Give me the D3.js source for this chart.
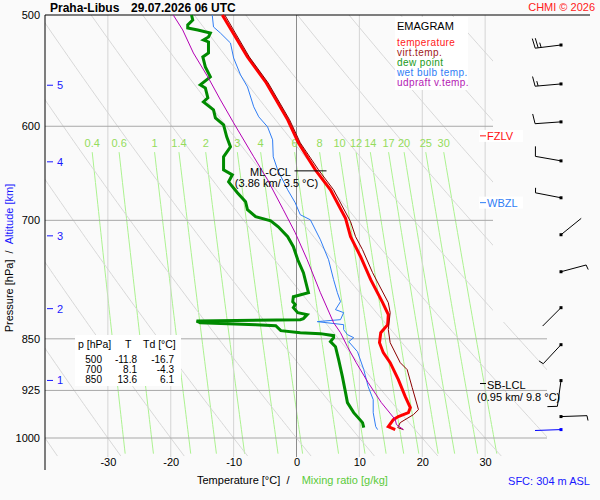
<!DOCTYPE html>
<html>
<head>
<meta charset="utf-8">
<script src="https://cdn.jsdelivr.net/npm/d3@7"></script>
<style>
  body { margin: 0; background: #fafafa; }
  svg { font-family: "Liberation Sans", Arial, sans-serif; }
</style>
</head>
<body>
<div id="vis"></div>
<script>
const FRAME_WIDTH = 600;
const FRAME_HEIGHT = 500;

// grid / axis values
const P_TICKS = [500, 600, 700, 850, 925, 1000];
const ISOBARS = [600, 700, 850, 925, 1000];
const T_TICKS = [-30, -20, -10, 0, 10, 20, 30];
const ISOTHERMS = [-30, -20, -10, 0, 10, 20, 30];
const MIX_RATIOS = [0.4, 0.6, 1, 1.4, 2, 3, 4, 6, 8, 10, 12, 14, 17, 20, 25, 30];
const THETAS = [-40, -30, -20, -10, 0, 10, 20, 30, 40, 50, 60, 70, 80, 90, 100, 110, 120, 130, 140];
const ALT_KM = [1, 2, 3, 4, 5];
const ALT_P = [910, 809, 718, 636, 561];

// sounding (hPa, degC)
const T_P = [500, 535.6, 558.9, 593.7, 616.5, 644.4, 665.9, 697.6, 719.1, 743.0, 771.5, 801.1, 817.0,
             830.5, 841.5, 855.4, 869.5, 883.9, 908.8, 934.5, 951.4, 959.3, 965.5, 970.3, 981.5, 986.3];
const T_VAL = [-11.8, -7.8, -4.8, -1.4, 0.3, 3.0, 5.4, 7.8, 8.6, 10.2, 11.8, 13.7, 14.6,
               14.5, 13.4, 13.2, 13.8, 14.9, 16.2, 17.3, 18.1, 17.8, 16.2, 15.4, 14.6, 15.7];

const TV_P = [500, 535.6, 558.9, 593.7, 616.5, 644.4, 665.9, 701.6, 719.1, 734.5, 762.7, 801.1, 814.3,
              837.3, 855.4, 883.9, 894.0, 920.7, 954.6, 962.4, 975.1, 983.1, 986.3];
const TV_VAL = [-11.4, -7.5, -4.5, -1.1, 0.6, 3.5, 5.9, 8.6, 9.4, 10.5, 12.1, 14.6, 14.9,
                14.6, 14.9, 16.5, 17.6, 18.4, 19.4, 18.6, 16.5, 16.1, 17.0];

const TD_P = [500, 504.1, 508.2, 510.8, 512.4, 515.0, 518.3, 520.9, 522.6, 532.1, 535.6, 544.4, 553.4,
              560.7, 563.5, 572.7, 576.5, 584.1, 591.8, 598.6, 610.5, 620.6, 630.8, 644.4, 649.7, 657.2,
              669.1, 679.0, 687.9, 695.9, 700.5, 707.4, 719.1, 730.9, 746.7, 762.7, 788.1, 793.3, 799.8,
              803.7, 807.7, 814.3, 817.0, 822.3, 823.7, 825.7, 827.8, 830.5, 831.9, 838.7, 841.5, 842.8,
              845.6, 848.4, 854.0, 861.0, 879.5, 904.4, 928.4, 943.7, 959.3, 975.1, 983.1];
const TD_VAL = [-16.7, -16.5, -17.3, -17.3, -15.7, -13.7, -14.0, -14.8, -14.0, -14.0, -14.9, -14.5, -13.7,
                -15.3, -14.5, -14.1, -14.8, -13.2, -12.9, -11.6, -11.1, -10.5, -11.6, -11.6, -10.2, -10.8,
                -9.4, -8.1, -7.8, -6.5, -4.1, -2.9, -1.4, -0.5, 0.2, 1.1, 1.9, -0.5, -0.6,
                -0.2, -0.5, 0.2, 1.7, 1.1, 0.6, -15.9, -15.3, -6.5, -3.3, -2.5, 0.6, 3.8,
                5.9, 5.9, 5.4, 6.2, 6.7, 7.3, 7.8, 8.1, 9.1, 10.5, 10.7];

const TW_P = [500, 509.9, 515.0, 523.5, 536.5, 551.6, 562.5, 581.2, 590.8, 600.6, 613.5, 630.8, 644.4,
              665.9, 680.2, 693.6, 699.4, 722.6, 746.7, 771.5, 788.1, 799.8, 810.3, 814.3, 823.7, 826.4,
              830.5, 837.3, 844.2, 848.4, 854.0, 868.1, 894.0, 919.3, 939.1, 959.3, 981.5, 986.3];
const TW_VAL = [-13.4, -13.2, -12.1, -10.5, -10.0, -8.9, -7.8, -6.8, -6.0, -4.6, -3.8, -3.7, -3.0,
                -1.4, -0.2, 0.6, 2.2, 3.8, 5.1, 5.9, 6.5, 7.0, 6.2, 7.5, 7.0, 3.3,
                7.5, 7.5, 8.1, 9.1, 8.3, 9.7, 10.7, 11.4, 12.2, 12.2, 12.6, 12.9];

const PARCEL_P = [500, 512.4, 532.1, 553.4, 574.6, 596.7, 630.8, 655.0, 687.9, 714.4, 746.7, 788.1,
                  827.8, 841.5, 861.0, 883.9, 913.3, 943.7, 970.3, 978.3, 986.3];
const PARCEL_VAL = [-19.6, -18.1, -16.4, -14.1, -12.1, -10.0, -6.8, -4.6, -2.1, -0.2, 1.7, 3.8,
                    5.9, 7.0, 8.1, 9.5, 11.4, 13.5, 15.7, 15.9, 17.0];

// wind (hPa, deg, kt)
const WIND_P = [525.2, 559.8, 595.7, 635.0, 674.6, 716.7, 761.5, 807.7, 858.2, 910.2, 965.5, 986.3];
const WIND_DIR = [263, 265, 266, 280, 281, 51, 75, 225, 223, 188, 88, 268];
const WIND_KT = [25, 15, 10, 10, 5, 2, 5, 2, 5, 10, 5, 2];

// levels
const FZLV_P = 609.5;
const WBZL_P = 680;
const CCL_P = 645.5, CCL_KM = 3.86, CCL_T = 3.5;
const LCL_P = 914.6, LCL_KM = 0.95, LCL_T = 9.8;

const TABLE_P = [500, 700, 850];
const TABLE_T = [-11.8, 8.1, 13.6];
const TABLE_TD = [-16.7, -4.3, 6.1];

const X_SCALE = d3.scaleLinear().domain([-40, 40]).range([45, 548]);
const Y_SCALE = d3.scaleLog().domain([500, 1000]).range([15, 438]);

const SVG = d3.select("#vis").append("svg")
  .attr("width", FRAME_WIDTH)
  .attr("height", FRAME_HEIGHT);

SVG.append("rect").attr("width", FRAME_WIDTH).attr("height", FRAME_HEIGHT).attr("fill", "#fafafa");

SVG.append("defs").append("clipPath").attr("id", "plotclip")
  .append("polygon")
  .attr("points", "45,15 493,15 493,322 547,322 547,457 45,457");

const GRID = SVG.append("g").attr("clip-path", "url(#plotclip)");

const line = d3.line().x(d => X_SCALE(d[1])).y(d => Y_SCALE(d[0]));

function mixToTd(w, p) {
  const e = w * p / (622 + w);
  const l = Math.log(e / 6.112);
  return 243.5 * l / (17.67 - l);
}

// mixing ratio lines
const MIX_PS = d3.range(626, 1031, 8);
GRID.selectAll(".mix").data(MIX_RATIOS).enter().append("path")
  .attr("d", w => line(MIX_PS.map(p => [p, mixToTd(w, p)])))
  .attr("fill", "none").attr("stroke", "#acf290").attr("stroke-width", 1);

// dry adiabats
const ADI_PS = d3.range(500, 1035, 5);
GRID.selectAll(".adi").data(THETAS).enter().append("path")
  .attr("d", th => line(ADI_PS.map(p => [p, (th + 273.15) * Math.pow(p / 1000, 0.2857) - 273.15])))
  .attr("fill", "none").attr("stroke", "#d8d8d8").attr("stroke-width", 1);

// isotherms
GRID.selectAll(".iso").data(ISOTHERMS).enter().append("line")
  .attr("x1", d => X_SCALE(d)).attr("x2", d => X_SCALE(d))
  .attr("y1", 15).attr("y2", 457)
  .attr("stroke", d => d === 0 ? "#8c8c8c" : "#d4d4d4").attr("stroke-width", 1);

// isobars
GRID.selectAll(".bar").data(ISOBARS).enter().append("line")
  .attr("x1", 45).attr("x2", 548)
  .attr("y1", d => Y_SCALE(d)).attr("y2", d => Y_SCALE(d))
  .attr("stroke", "#a8a8a8").attr("stroke-width", 1);

// mixing ratio labels
SVG.selectAll(".mixlab").data(MIX_RATIOS).enter().append("text")
  .attr("x", w => X_SCALE(mixToTd(w, 626)))
  .attr("y", 147)
  .attr("text-anchor", "middle")
  .attr("font-size", 11).attr("fill", "#94dc5c")
  .text(d => d);

// axes frame
SVG.append("line").attr("x1", 45).attr("x2", 590).attr("y1", 15).attr("y2", 15)
  .attr("stroke", "#000");
SVG.append("line").attr("x1", 45).attr("x2", 45).attr("y1", 15).attr("y2", 470)
  .attr("stroke", "#000");

const Y_AXIS = SVG.append("g").attr("transform", "translate(45,0)")
  .call(d3.axisLeft(Y_SCALE).tickValues(P_TICKS).tickFormat(d => String(d)).tickSize(0).tickPadding(5));
Y_AXIS.select(".domain").remove();
Y_AXIS.selectAll("text").attr("font-size", 11).attr("font-family", "Liberation Sans, Arial, sans-serif")
  .attr("fill", "#000");

const X_AXIS = SVG.append("g").attr("transform", "translate(0,458)")
  .call(d3.axisBottom(X_SCALE).tickValues(T_TICKS).tickFormat(d => String(d)).tickSize(0).tickPadding(0));
X_AXIS.select(".domain").remove();
X_AXIS.selectAll("text").attr("font-size", 11).attr("font-family", "Liberation Sans, Arial, sans-serif")
  .attr("fill", "#000");

// altitude ticks
const ALT = SVG.selectAll(".alt").data(ALT_KM).enter().append("g")
  .attr("transform", (d, i) => "translate(0," + Y_SCALE(ALT_P[i]) + ")");
ALT.append("line").attr("x1", 47).attr("x2", 53).attr("stroke", "#1818ff");
ALT.append("text").attr("x", 57).attr("y", 4).attr("font-size", 11).attr("fill", "#1818ff").text(d => d);

// profiles
function drawProfile(ps, vals, color, width) {
  SVG.append("path")
    .attr("d", line(d3.zip(ps, vals)))
    .attr("fill", "none").attr("stroke", color).attr("stroke-width", width)
    .attr("stroke-linejoin", "miter");
}
drawProfile(TD_P, TD_VAL, "#008a00", 3);
drawProfile(T_P, T_VAL, "#ff0000", 3);
drawProfile(TV_P, TV_VAL, "#8b0000", 1);
drawProfile(TW_P, TW_VAL, "#2f7df5", 1);
drawProfile(PARCEL_P, PARCEL_VAL, "#b400b4", 1);

// wind barbs
const BARB_X = 561;
WIND_P.forEach((p, i) => {
  const y0 = Y_SCALE(p);
  const color = i === WIND_P.length - 1 ? "#0000ff" : "#000";
  const a = WIND_DIR[i] * Math.PI / 180;
  const ux = Math.sin(a), uy = -Math.cos(a);
  const nx = -uy, ny = ux;
  const L = 26;
  const g = SVG.append("g");
  g.append("line").attr("x1", BARB_X).attr("y1", y0)
    .attr("x2", BARB_X + L * ux).attr("y2", y0 + L * uy)
    .attr("stroke", color).attr("stroke-width", 1);
  g.append("rect").attr("x", BARB_X - 1.5).attr("y", y0 - 1.5).attr("width", 3).attr("height", 3)
    .attr("fill", color);
  const lengths = [];
  for (let k = 0; k < Math.floor(WIND_KT[i] / 10); k++) lengths.push(10);
  if (WIND_KT[i] % 10 >= 5) lengths.push(5);
  lengths.forEach((bl, k) => {
    const bx = BARB_X + (L - 3 * k) * ux, by = y0 + (L - 3 * k) * uy;
    g.append("line").attr("x1", bx).attr("y1", by)
      .attr("x2", bx + bl * (0.17 * ux + 0.985 * nx)).attr("y2", by + bl * (0.17 * uy + 0.985 * ny))
      .attr("stroke", color).attr("stroke-width", 1);
  });
});

// level labels
function levelLabel(p, text, color) {
  const y = Y_SCALE(p);
  SVG.append("rect").attr("x", 479).attr("y", y - 6).attr("width", 44).attr("height", 12).attr("fill", "#fff");
  SVG.append("line").attr("x1", 480).attr("x2", 486).attr("y1", y).attr("y2", y).attr("stroke", color);
  SVG.append("text").attr("x", 487).attr("y", y + 4).attr("font-size", 11).attr("fill", color).text(text);
}
levelLabel(FZLV_P, "FZLV", "#ff1010");
levelLabel(WBZL_P, "WBZL", "#2f7df5");

const yCcl = Y_SCALE(CCL_P);
SVG.append("line").attr("x1", X_SCALE(CCL_T) - 24).attr("x2", X_SCALE(CCL_T) + 8)
  .attr("y1", yCcl).attr("y2", yCcl).attr("stroke", "#000");
SVG.append("text").attr("x", X_SCALE(CCL_T) - 48).attr("y", yCcl + 5).attr("text-anchor", "middle")
  .attr("font-size", 11).text("ML-CCL");
SVG.append("text").attr("x", X_SCALE(CCL_T) - 42).attr("y", yCcl + 16).attr("text-anchor", "middle")
  .attr("font-size", 11).text("(" + CCL_KM + " km/ " + CCL_T + " °C)");

const yLcl = Y_SCALE(LCL_P);
SVG.append("line").attr("x1", 480).attr("x2", 486).attr("y1", yLcl).attr("y2", yLcl).attr("stroke", "#000");
SVG.append("text").attr("x", 487).attr("y", yLcl + 5).attr("font-size", 11).text("SB-LCL");
SVG.append("text").attr("x", 477).attr("y", yLcl + 17).attr("font-size", 11)
  .text("(" + LCL_KM + " km/ " + LCL_T + " °C)");

// legend
SVG.append("rect").attr("x", 395).attr("y", 17).attr("width", 73).attr("height", 73).attr("fill", "#fff");
SVG.append("text").attr("x", 397).attr("y", 30).attr("font-size", 11).text("EMAGRAM");
const LEGEND_NAMES = ["temperature", "virt.temp.", "dew point", "wet bulb temp.", "udpraft v.temp."];
const LEGEND_COLORS = ["#ff1a1a", "#a01818", "#209a20", "#2f7df5", "#b420b4"];
SVG.selectAll(".leg").data(LEGEND_NAMES).enter().append("text")
  .attr("x", 397).attr("y", (d, i) => 46 + 10 * i)
  .attr("font-size", 10).attr("letter-spacing", 0.4)
  .attr("fill", (d, i) => LEGEND_COLORS[i]).text(d => d);

// table
SVG.append("rect").attr("x", 75).attr("y", 335).attr("width", 106).attr("height", 51).attr("fill", "#fff");
SVG.append("text").attr("x", 78).attr("y", 348).attr("font-size", 10.5).text("p [hPa]");
SVG.append("text").attr("x", 125).attr("y", 348).attr("font-size", 10.5).text("T");
SVG.append("text").attr("x", 143).attr("y", 348).attr("font-size", 10.5).text("Td [°C]");
TABLE_P.forEach((p, i) => {
  const y = 362.5 + 10 * i;
  SVG.append("text").attr("x", 102).attr("y", y).attr("text-anchor", "end").attr("font-size", 10).text(p);
  SVG.append("text").attr("x", 137).attr("y", y).attr("text-anchor", "end").attr("font-size", 10)
    .text(TABLE_T[i].toFixed(1));
  SVG.append("text").attr("x", 174).attr("y", y).attr("text-anchor", "end").attr("font-size", 10)
    .text(TABLE_TD[i].toFixed(1));
});

// titles
SVG.append("text").attr("x", 50).attr("y", 12).attr("font-size", 12).attr("font-weight", "bold")
  .text("Praha-Libus");
SVG.append("text").attr("x", 131).attr("y", 12).attr("font-size", 12).attr("font-weight", "bold")
  .text("29.07.2026 06 UTC");
SVG.append("text").attr("x", 595).attr("y", 11).attr("text-anchor", "end").attr("font-size", 11)
  .attr("fill", "#ff2020").text("CHMI © 2026");

const XT = SVG.append("text").attr("x", 197).attr("y", 484).attr("font-size", 11);
XT.append("tspan").attr("fill", "#000").text("Temperature [°C]\u00a0\u00a0/\u00a0\u00a0\u00a0\u00a0");
XT.append("tspan").attr("fill", "#5acb3a").text("Mixing ratio [g/kg]");

const YT = SVG.append("text").attr("transform", "translate(13,258) rotate(-90)")
  .attr("text-anchor", "middle").attr("font-size", 11);
YT.append("tspan").attr("fill", "#000").text("Pressure [hPa]\u00a0\u00a0/\u00a0\u00a0");
YT.append("tspan").attr("fill", "#1818ff").text("Altitude [km]");

SVG.append("text").attr("x", 590).attr("y", 485).attr("text-anchor", "end").attr("font-size", 11)
  .attr("fill", "#1818ff").text("SFC: 304 m ASL");
</script>
</body>
</html>
